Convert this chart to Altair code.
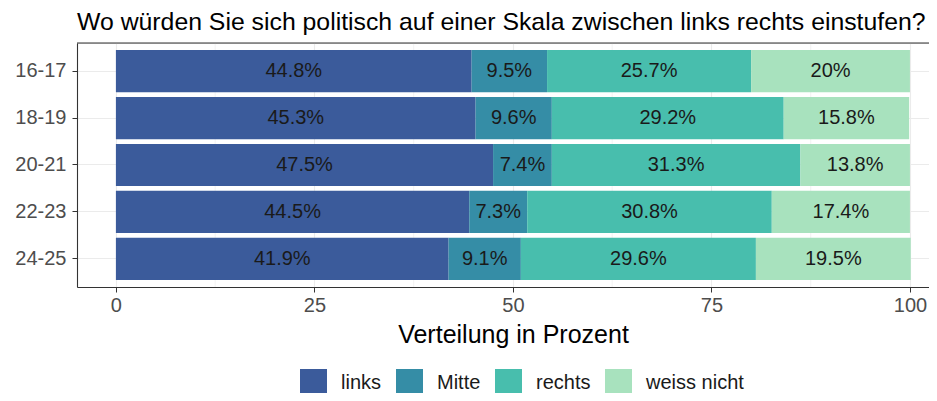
import altair as alt
import pandas as pd

ages = ["16-17", "18-19", "20-21", "22-23", "24-25"]
categories = ["links", "Mitte", "rechts", "weiss nicht"]
links = [44.8, 45.3, 47.5, 44.5, 41.9]
mitte = [9.5, 9.6, 7.4, 7.3, 9.1]
rechts = [25.7, 29.2, 31.3, 30.8, 29.6]
weiss = [20, 15.8, 13.8, 17.4, 19.5]
colors = ["#3B5B9B", "#358DA6", "#48BEAD", "#A8E2BE"]
x_ticks = [0, 25, 50, 75, 100]
minor_ticks = [12.5, 37.5, 62.5, 87.5]
title_text = "Wo würden Sie sich politisch auf einer Skala zwischen links rechts einstufen?"
x_title = "Verteilung in Prozent"

FONT = "Liberation Sans, Arial, sans-serif"
W, H = 852, 244

rows = []
series = [links, mitte, rechts, weiss]
for i, a in enumerate(ages):
    for j, c in enumerate(categories):
        v = series[j][i]
        rows.append({"age": a, "cat": c, "idx": j, "value": v, "label": f"{v:g}%"})
df = pd.DataFrame(rows)

xscale = alt.Scale(domain=[-4.9, 102.4], nice=False, zero=False)
yscale = alt.Scale(domain=ages, paddingInner=0.1, paddingOuter=0.15)

base = alt.Chart(df).transform_stack(
    stack="value", groupby=["age"], as_=["x0", "x1"],
    sort=[alt.SortField("idx", order="ascending")]
).transform_calculate(mid="(datum.x0 + datum.x1) / 2")

y_enc = alt.Y("age:N", scale=yscale, sort=ages, axis=alt.Axis(
    title=None, labelFontSize=20, labelColor="#4D4D4D", labelFont=FONT,
    tickColor="#333333", tickSize=5, labelPadding=6,
    domainColor="#333333", domainWidth=1.1,
    grid=True, gridColor="#EBEBEB", gridWidth=1.1, bandPosition=0.5))

minor = alt.Chart(pd.DataFrame({"m": minor_ticks})).mark_rule(
    color="#EBEBEB", strokeWidth=0.6
).encode(x=alt.X("m:Q", scale=xscale))

bars = base.mark_bar().encode(
    x=alt.X("x0:Q", scale=xscale, axis=alt.Axis(
        values=x_ticks, title=x_title, titleFontSize=25, titleFont=FONT,
        titleFontWeight="normal", titleColor="#000000",
        titleX=436, titleY=55, titleAnchor="start", titleAlign="center", titleBaseline="alphabetic",
        labelFontSize=20, labelColor="#4D4D4D", labelFont=FONT, labelPadding=3,
        tickColor="#333333", tickSize=5, domainColor="#333333", domainWidth=1.1,
        grid=True, gridColor="#EBEBEB", gridWidth=1.1)),
    x2="x1:Q",
    y=y_enc,
    color=alt.Color("cat:N", scale=alt.Scale(domain=categories, range=colors),
                    sort=categories,
                    legend=alt.Legend(title=None, orient="none", direction="horizontal",
                                      legendX=223, legendY=326,
                                      symbolType="square", symbolSize=729,
                                      symbolStrokeWidth=0, symbolOpacity=1,
                                      labelFontSize=20, labelFont=FONT, labelColor="#1A1A1A",
                                      labelOffset=14, columnPadding=14)),
    order=alt.Order("idx:Q"),
)

texts = base.mark_text(fontSize=20, font=FONT, color="#1A1A1A").encode(
    x=alt.X("mid:Q", scale=xscale),
    y=alt.Y("age:N", scale=yscale, sort=ages),
    text="label:N",
)

top_border = alt.Chart(pd.DataFrame({"a": [0]})).mark_rule(color="#333333", strokeWidth=1.1).encode(
    x=alt.value(0), x2=alt.value(W), y=alt.value(0))

chart = alt.layer(minor, bars, texts, top_border).properties(
    width=W, height=H,
    title=alt.TitleParams(title_text, anchor="start", frame="group", fontSize=24.8,
                          font=FONT, fontWeight="normal", color="#000000", offset=8),
    autosize=alt.AutoSizeParams(type="none"),
    padding={"left": 69, "top": 35, "right": 0, "bottom": 106},
).configure_view(stroke=None).configure(background="white")

chart.save("out.html", embed_options={"renderer": "svg", "actions": False})
